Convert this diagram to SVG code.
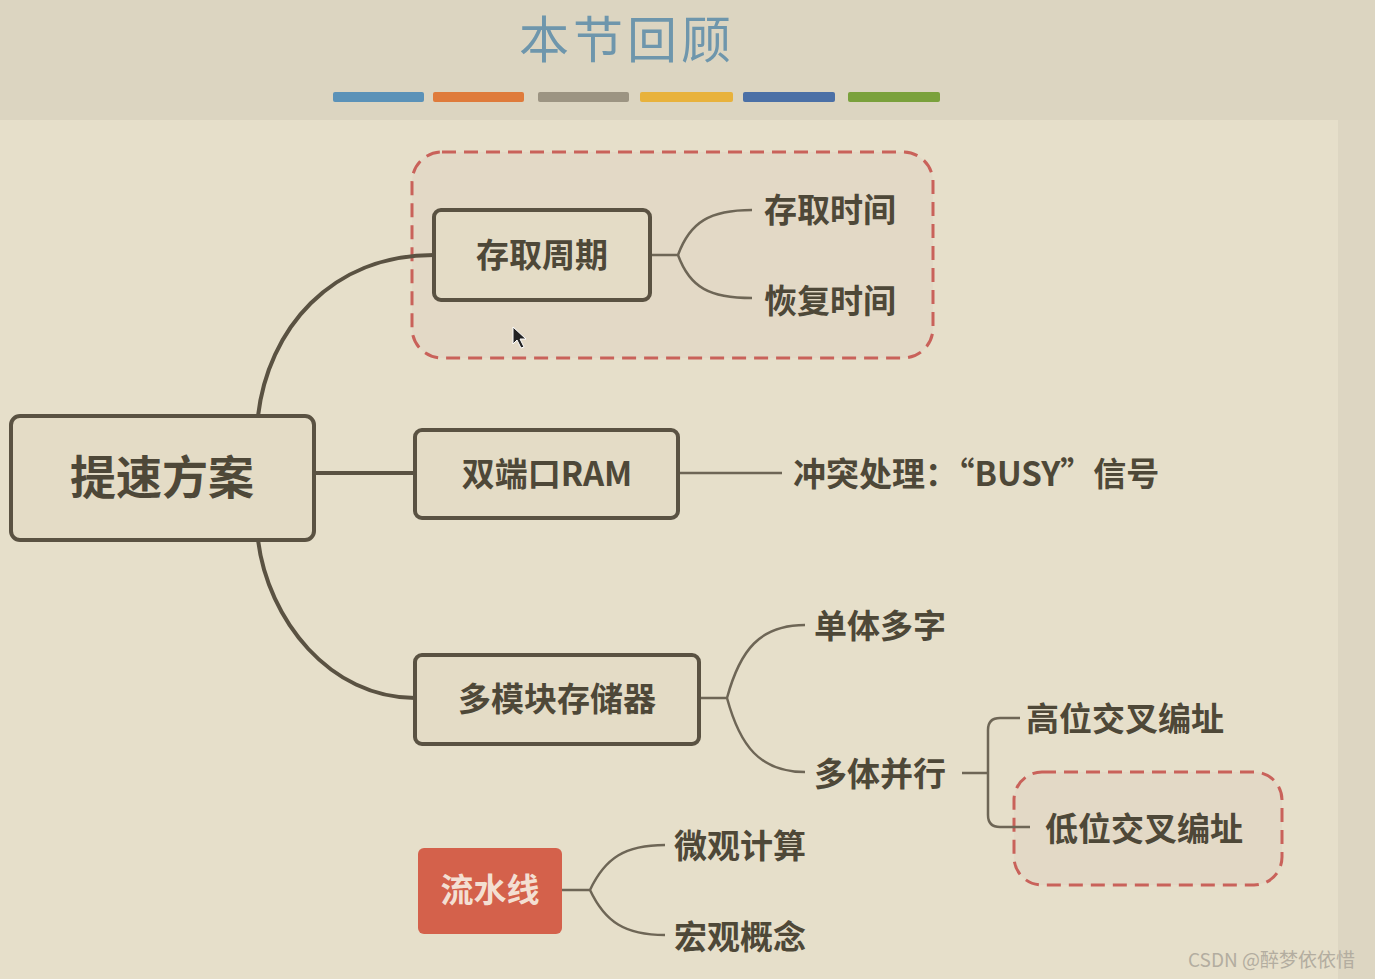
<svg xmlns="http://www.w3.org/2000/svg" width="1375" height="979" viewBox="0 0 1375 979">
<defs>
<style>
.node{fill:#e4dcc6;stroke:#5a5242;stroke-width:4}
.t{font-family:"Noto Sans CJK SC","Noto Sans",sans-serif;fill:#4e4838}
.nt{font-size:33px;font-weight:bold;text-anchor:middle}
.lf{font-size:33px;font-weight:bold}
.main{fill:none;stroke:#5a5242;stroke-width:4}
.thin{fill:none;stroke:#6e6656;stroke-width:2.5}
.dash{fill:#e3d9c6;stroke:#c9625a;stroke-width:3;stroke-dasharray:14 8}
</style>
</defs>
<rect x="0" y="0" width="1375" height="979" fill="#dcd5c1"/>
<rect x="0" y="120" width="1338" height="859" fill="#e6dfca"/>
<rect x="1338" y="120" width="37" height="859" fill="#ddd6c2"/>
<g id="title">
<text x="627" y="58" text-anchor="middle" class="t" style="font-size:50px;letter-spacing:4px;fill:#6e96ac">本节回顾</text>
<rect x="333" y="92" width="91" height="10" rx="2" fill="#5b92b8"/>
<rect x="433" y="92" width="91" height="10" rx="2" fill="#df7b3b"/>
<rect x="538" y="92" width="91" height="10" rx="2" fill="#9c9482"/>
<rect x="640" y="92" width="93" height="10" rx="2" fill="#e8b23c"/>
<rect x="743" y="92" width="92" height="10" rx="2" fill="#4b70a6"/>
<rect x="848" y="92" width="92" height="10" rx="2" fill="#7aa13c"/>
</g>
<g id="highlight-boxes">
<rect class="dash" x="412" y="152" width="521" height="206" rx="30"/>
<rect class="dash" x="1014" y="772" width="268" height="113" rx="28"/>
</g>
<g id="connectors">
<path class="main" d="M258,416 C268,330 330,255 434,255"/>
<path class="main" d="M314,473 H415"/>
<path class="main" d="M258,540 C268,620 330,698 415,698"/>
<path class="thin" d="M650,255 H678 M678,255 C690,222 710,210 752,210 M678,255 C690,288 710,298 752,298"/>
<path class="thin" d="M678,473 H782"/>
<path class="thin" d="M699,698 H727 M727,698 C740,650 760,625 805,625 M727,698 C740,746 760,772 805,772"/>
<path class="thin" d="M962,773 H988 M1020,718 H1000 Q988,718 988,730 V815 Q988,827 1000,827 H1030"/>
<path class="thin" d="M562,890 H590 M590,890 C605,858 625,845 665,845 M590,890 C605,922 625,935 665,935"/>
</g>
<g id="root">
<rect class="node" x="11" y="416" width="303" height="124" rx="9"/>
<text class="t" x="162" y="494" text-anchor="middle" style="font-size:46px;font-weight:bold">提速方案</text>
</g>
<g id="n-cycle">
<rect class="node" x="434" y="210" width="216" height="90" rx="7"/>
<text class="t nt" x="542" y="267">存取周期</text>
</g>
<g id="n-dualport">
<rect class="node" x="415" y="430" width="263" height="88" rx="7"/>
<text class="t nt" x="547" y="486">双端口RAM</text>
</g>
<g id="n-multimodule">
<rect class="node" x="415" y="655" width="284" height="89" rx="7"/>
<text class="t nt" x="557" y="711">多模块存储器</text>
</g>
<g id="n-pipeline">
<rect x="418" y="848" width="144" height="86" rx="6" fill="#d4614b"/>
<text class="t nt" x="490" y="902" style="fill:#f3dfd2">流水线</text>
</g>
<g id="leaves">
<text class="t lf" x="764" y="222">存取时间</text>
<text class="t lf" x="764" y="313">恢复时间</text>
<text class="t lf" x="793" y="486">冲突处理：“BUSY”信号</text>
<text class="t lf" x="814" y="638">单体多字</text>
<text class="t lf" x="814" y="786">多体并行</text>
<text class="t lf" x="1026" y="731">高位交叉编址</text>
<text class="t lf" x="1045" y="841">低位交叉编址</text>
<text class="t lf" x="674" y="858">微观计算</text>
<text class="t lf" x="674" y="949">宏观概念</text>
</g>
<g id="cursor">
<path d="M513,327 L513,344 L517,340 L521,348 L524,347 L520,339 L526,339 Z" fill="#222" stroke="#fff" stroke-width="1"/>
</g>
<g id="watermark">
<text x="1188" y="967" style="font-family:'Noto Sans CJK SC','Liberation Sans',sans-serif;font-size:19px;fill:#b3ada0">CSDN @醉梦依依惜</text>
</g>
</svg>
